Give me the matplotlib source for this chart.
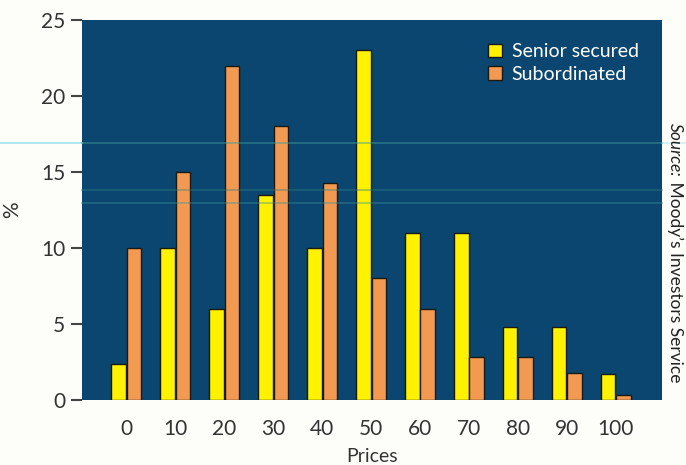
import numpy as np
import matplotlib.pyplot as plt
from matplotlib.lines import Line2D

prices = [0, 10, 20, 30, 40, 50, 60, 70, 80, 90, 100]
senior_secured = [2.4, 10, 6, 13.5, 10, 23, 11, 11, 4.8, 4.8, 1.7]
subordinated = [10, 15, 22, 18, 14.3, 8, 6, 2.8, 2.8, 1.8, 0.3]

navy = "#0b4670"
yellow = "#fff200"
orange = "#f39a52"
ink = "#333333"

plt.rcParams["font.family"] = ["Lato", "DejaVu Sans"]

fig = plt.figure(figsize=(6.86, 4.65), dpi=100)
fig.patch.set_facecolor("#fdfdf9")
ax = fig.add_axes([82 / 686, 65 / 465, 580 / 686, 380 / 465])
ax.set_facecolor(navy)

x = np.arange(len(prices))
w = 0.29
ax.bar(x - w / 2 - 0.01, senior_secured, w, color=yellow, edgecolor="#1a1a10",
       linewidth=1.0, label="Senior secured")
ax.bar(x + w / 2 + 0.01, subordinated, w, color=orange, edgecolor="#1a1a10",
       linewidth=1.0, label="Subordinated")

ax.set_xlim(-0.9, 10.94)
ax.set_ylim(0, 25)
ax.set_xticks(x)
ax.set_xticklabels([str(p) for p in prices])
ax.set_yticks([0, 5, 10, 15, 20, 25])
ax.tick_params(axis="x", length=0, pad=14, labelsize=15, labelcolor=ink)
ax.tick_params(axis="y", length=8, width=1.5, color="#444444", pad=4,
               labelsize=15, labelcolor=ink)
for s in ax.spines.values():
    s.set_visible(False)

ax.set_xlabel("Prices", fontsize=14, color=ink, labelpad=6)
ax.set_ylabel("%", fontsize=15, color=ink, labelpad=14)

leg = ax.legend(loc="upper right", bbox_to_anchor=(0.99, 0.985), frameon=False,
                fontsize=14, handlelength=0.7, handleheight=0.7,
                handletextpad=0.5, labelspacing=0.3, labelcolor="white")

# rotated source note: italic "Source:" followed by the agency name
src = fig.text(0.984, 0.735, "Source:", rotation=270, ha="center", va="top",
               fontsize=12.5, style="italic", color="#222222")
ax.annotate(" Moody\u2019s Investors Service", xy=(0.5, 0), xycoords=src,
            rotation=270, ha="center", va="top", fontsize=12.5, color="#222222",
            annotation_clip=False)

# faint horizontal streaks across the print
for yy, x0, x1, c, a in [(143, 0, 82, "#8adbe8", 0.8),
                         (143, 82, 662, "#3f9a98", 0.55),
                         (143, 662, 686, "#8adbe8", 0.4),
                         (190, 82, 662, "#2f7f80", 0.45),
                         (203, 82, 662, "#3a8f98", 0.45)]:
    fig.add_artist(Line2D([x0 / 686, x1 / 686], [1 - yy / 465, 1 - yy / 465],
                          transform=fig.transFigure, color=c, alpha=a, lw=1.2))

fig.savefig("out.png", dpi=100, facecolor=fig.get_facecolor())
